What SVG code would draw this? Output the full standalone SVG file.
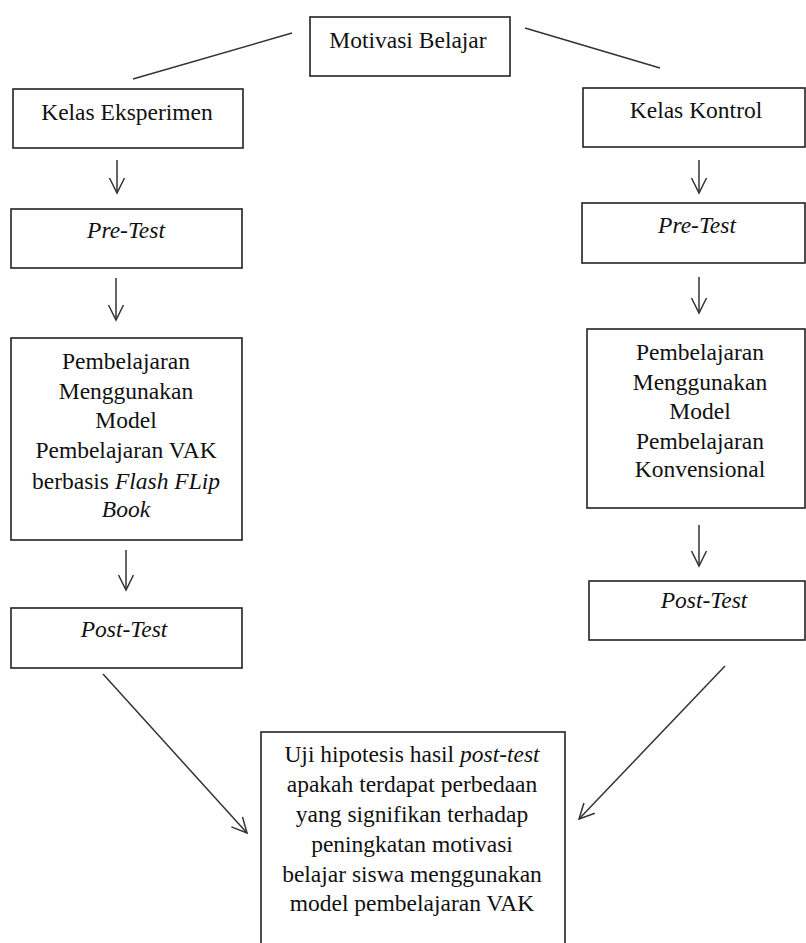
<svg xmlns="http://www.w3.org/2000/svg" width="806" height="943" viewBox="0 0 806 943">
<style>
.box{fill:#fff;stroke:#222;stroke-width:1.6}
.t{font-family:"Liberation Serif","Times New Roman",serif;font-size:23.5px;fill:#111;text-anchor:middle}
.i{font-style:italic}
.c{fill:none;stroke:#333;stroke-width:1.5}
.a{marker-end:url(#arr)}
</style>
<defs>
<marker id="arr" markerUnits="userSpaceOnUse" markerWidth="24" markerHeight="24" viewBox="-18 -12 24 24" refX="0" refY="0" orient="auto" overflow="visible">
<path d="M-15,-7.5 L0,0 L-15,7.5" fill="none" stroke="#333" stroke-width="1.5"/>
</marker>
</defs>
<rect width="806" height="943" fill="#fff"/>
<g id="connectors">
<line class="c" x1="292" y1="33" x2="133" y2="79"/>
<line class="c" x1="525" y1="28" x2="660" y2="68"/>
<line class="c a" x1="117" y1="160" x2="117" y2="193"/>
<line class="c a" x1="116" y1="278" x2="116" y2="320"/>
<line class="c a" x1="126" y1="550" x2="126" y2="590"/>
<line class="c a" x1="699" y1="160" x2="699" y2="193"/>
<line class="c a" x1="699" y1="277" x2="699" y2="313"/>
<line class="c a" x1="699" y1="525" x2="699" y2="566"/>
<line class="c a" x1="103" y1="674" x2="247" y2="833"/>
<line class="c a" x1="725" y1="666" x2="579" y2="819"/>
</g>
<g id="motivasi">
<rect class="box" x="310" y="17" width="200" height="59"/>
<text class="t" x="408" y="48">Motivasi Belajar</text>
</g>
<g id="kelas-eksperimen">
<rect class="box" x="13" y="89" width="230" height="59"/>
<text class="t" x="127" y="120">Kelas Eksperimen</text>
</g>
<g id="kelas-kontrol">
<rect class="box" x="583" y="88" width="222" height="59"/>
<text class="t" x="696" y="118">Kelas Kontrol</text>
</g>
<g id="pretest-eksperimen">
<rect class="box" x="11" y="209" width="231" height="59"/>
<text class="t i" x="126" y="238">Pre-Test</text>
</g>
<g id="pretest-kontrol">
<rect class="box" x="582" y="203" width="223" height="60"/>
<text class="t i" x="697" y="233">Pre-Test</text>
</g>
<g id="pembelajaran-vak">
<rect class="box" x="11" y="338" width="231" height="202"/>
<text class="t" x="126" y="369">Pembelajaran</text>
<text class="t" x="126" y="399">Menggunakan</text>
<text class="t" x="126" y="428">Model</text>
<text class="t" x="126" y="458">Pembelajaran VAK</text>
<text class="t" x="126" y="489">berbasis <tspan class="i">Flash FLip</tspan></text>
<text class="t i" x="126" y="517">Book</text>
</g>
<g id="pembelajaran-konvensional">
<rect class="box" x="587" y="329" width="218" height="179"/>
<text class="t" x="700" y="360">Pembelajaran</text>
<text class="t" x="700" y="390">Menggunakan</text>
<text class="t" x="700" y="419">Model</text>
<text class="t" x="700" y="449">Pembelajaran</text>
<text class="t" x="700" y="477">Konvensional</text>
</g>
<g id="posttest-eksperimen">
<rect class="box" x="11" y="608" width="231" height="60"/>
<text class="t i" x="124" y="637">Post-Test</text>
</g>
<g id="posttest-kontrol">
<rect class="box" x="589" y="581" width="216" height="59"/>
<text class="t i" x="704" y="608">Post-Test</text>
</g>
<g id="uji-hipotesis">
<rect class="box" x="261" y="732" width="304" height="220"/>
<text class="t" x="412" y="762">Uji hipotesis hasil <tspan class="i">post-test</tspan></text>
<text class="t" x="412" y="792">apakah terdapat perbedaan</text>
<text class="t" x="412" y="822">yang signifikan terhadap</text>
<text class="t" x="412" y="852">peningkatan motivasi</text>
<text class="t" x="412" y="882">belajar siswa menggunakan</text>
<text class="t" x="412" y="911">model pembelajaran VAK</text>
</g>
</svg>
